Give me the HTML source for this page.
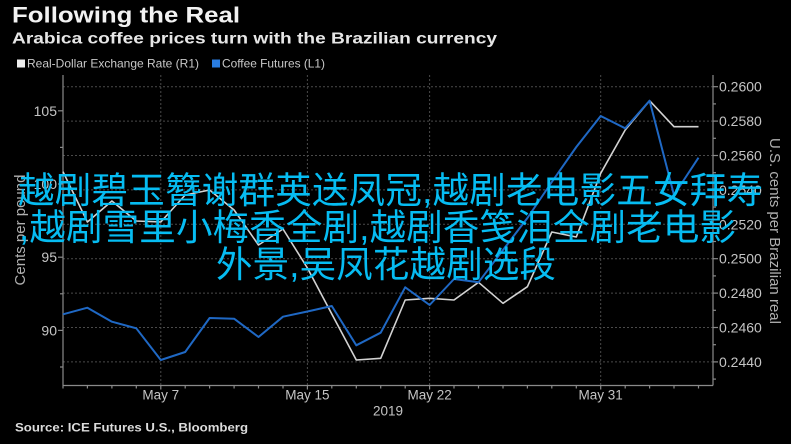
<!DOCTYPE html>
<html><head><meta charset="utf-8">
<style>
html,body{margin:0;padding:0;background:#000;}
svg{display:block;}
</style></head>
<body>
<svg width="791" height="444" viewBox="0 0 791 444" xmlns="http://www.w3.org/2000/svg" font-family="'Liberation Sans', 'Noto Sans CJK SC', sans-serif">
<rect width="791" height="444" fill="#000"/>
<!-- titles -->
<text x="12" y="22.5" font-size="22" font-weight="bold" fill="#f2f2f2" textLength="228" lengthAdjust="spacingAndGlyphs">Following the Real</text>
<text x="12" y="43.5" font-size="15.5" font-weight="bold" fill="#e6e6e6" textLength="485" lengthAdjust="spacingAndGlyphs">Arabica coffee prices turn with the Brazilian currency</text>
<!-- legend -->
<rect x="17" y="59.5" width="8" height="8" fill="#eeeeee"/>
<text x="27" y="67.5" font-size="12" fill="#c8c8c8" textLength="172" lengthAdjust="spacingAndGlyphs">Real-Dollar Exchange Rate (R1)</text>
<rect x="212" y="59.5" width="8" height="8" fill="#2a7de1"/>
<text x="222" y="67.5" font-size="12" fill="#c8c8c8" textLength="103" lengthAdjust="spacingAndGlyphs">Coffee Futures (L1)</text>

<!-- horizontal gridlines -->
<g stroke="#4a4a4a" stroke-width="1" stroke-dasharray="2,2">
<line x1="63" y1="86.7" x2="713" y2="86.7"/>
<line x1="63" y1="121.1" x2="713" y2="121.1"/>
<line x1="63" y1="155.5" x2="713" y2="155.5"/>
<line x1="63" y1="189.9" x2="713" y2="189.9"/>
<line x1="63" y1="224.3" x2="713" y2="224.3"/>
<line x1="63" y1="258.7" x2="713" y2="258.7"/>
<line x1="63" y1="293.1" x2="713" y2="293.1"/>
<line x1="63" y1="327.5" x2="713" y2="327.5"/>
<line x1="63" y1="361.9" x2="713" y2="361.9"/>
<!-- vertical -->
<line x1="160.8" y1="75" x2="160.8" y2="385"/>
<line x1="307.4" y1="75" x2="307.4" y2="385"/>
<line x1="429.6" y1="75" x2="429.6" y2="385"/>
<line x1="600.7" y1="75" x2="600.7" y2="385"/>
</g>

<!-- axes -->
<g stroke="#8a8a8a" stroke-width="1.2" fill="none">
<line x1="63" y1="75" x2="63" y2="385.5"/>
<line x1="713" y1="75" x2="713" y2="385.5"/>
<line x1="63" y1="385.5" x2="713" y2="385.5"/>
<!-- left ticks -->
<line x1="58" y1="110.8" x2="63" y2="110.8"/>
<line x1="58" y1="184" x2="63" y2="184"/>
<line x1="58" y1="257.2" x2="63" y2="257.2"/>
<line x1="58" y1="330.4" x2="63" y2="330.4"/>
<line x1="60" y1="147.4" x2="63" y2="147.4"/>
<line x1="60" y1="220.6" x2="63" y2="220.6"/>
<line x1="60" y1="293.8" x2="63" y2="293.8"/>
<line x1="60" y1="367" x2="63" y2="367"/>
<!-- right ticks -->
<line x1="713" y1="86.7" x2="718" y2="86.7"/>
<line x1="713" y1="121.1" x2="718" y2="121.1"/>
<line x1="713" y1="155.5" x2="718" y2="155.5"/>
<line x1="713" y1="189.9" x2="718" y2="189.9"/>
<line x1="713" y1="224.3" x2="718" y2="224.3"/>
<line x1="713" y1="258.7" x2="718" y2="258.7"/>
<line x1="713" y1="293.1" x2="718" y2="293.1"/>
<line x1="713" y1="327.5" x2="718" y2="327.5"/>
<line x1="713" y1="361.9" x2="718" y2="361.9"/>
<line x1="713" y1="103.9" x2="716" y2="103.9"/>
<line x1="713" y1="138.3" x2="716" y2="138.3"/>
<line x1="713" y1="172.7" x2="716" y2="172.7"/>
<line x1="713" y1="207.1" x2="716" y2="207.1"/>
<line x1="713" y1="241.5" x2="716" y2="241.5"/>
<line x1="713" y1="275.9" x2="716" y2="275.9"/>
<line x1="713" y1="310.3" x2="716" y2="310.3"/>
<line x1="713" y1="344.7" x2="716" y2="344.7"/>
<line x1="713" y1="379.1" x2="716" y2="379.1"/>
<!-- bottom ticks -->
<path d="M63 385.5v3 M87.4 385.5v3 M111.9 385.5v3 M136.3 385.5v3 M160.8 385.5v4 M185.2 385.5v3 M209.6 385.5v3 M234.1 385.5v3 M258.5 385.5v3 M283 385.5v3 M307.4 385.5v4 M331.8 385.5v3 M356.3 385.5v3 M380.7 385.5v3 M405.2 385.5v3 M429.6 385.5v4 M454 385.5v3 M478.5 385.5v3 M503 385.5v3 M527.4 385.5v3 M551.8 385.5v3 M576.3 385.5v3 M600.7 385.5v4 M625.2 385.5v3 M649.6 385.5v3 M674 385.5v3 M698.5 385.5v3"/>
</g>

<!-- tick labels -->
<g font-size="14" fill="#c4c4c4">
<text x="57" y="115.8" text-anchor="end">105</text>
<text x="57" y="189" text-anchor="end">100</text>
<text x="57" y="262.2" text-anchor="end">95</text>
<text x="57" y="335.4" text-anchor="end">90</text>
<text x="719" y="91.7">0.2600</text>
<text x="719" y="126.1">0.2580</text>
<text x="719" y="160.5">0.2560</text>
<text x="719" y="194.9">0.2540</text>
<text x="719" y="229.3">0.2520</text>
<text x="719" y="263.7">0.2500</text>
<text x="719" y="298.1">0.2480</text>
<text x="719" y="332.5">0.2460</text>
<text x="719" y="366.9">0.2440</text>
</g>
<g font-size="13.5" fill="#c4c4c4" text-anchor="middle">
<text x="160.8" y="399.5">May 7</text>
<text x="307.4" y="399.5">May 15</text>
<text x="429.6" y="399.5">May 22</text>
<text x="600.7" y="399.5">May 31</text>
<text x="388" y="415.5">2019</text>
</g>
<text transform="translate(25,230) rotate(-90)" font-size="15" fill="#b0b0b0" text-anchor="middle">Cents per pound</text>
<text transform="translate(770,231) rotate(90)" font-size="15" fill="#b0b0b0" text-anchor="middle">U.S. cents per Brazilian real</text>

<!-- series -->
<polyline fill="none" stroke="#d2d2d2" stroke-width="1.6" stroke-linejoin="round" points="63,171.7 87.4,222 111.9,201 136.3,221 160.8,222 185.2,195 209.6,190 234.1,210 258.5,245 283,229 307.4,268 331.8,314 356.3,360 380.7,358.3 405.2,300 429.6,298.3 454,300 478.5,282.3 503,303.3 527.4,286.7 551.8,232 576.3,237 600.7,173.3 625.2,130 649.6,100.7 674,126.7 698.5,126.7"/>
<polyline fill="none" stroke="#1f68c4" stroke-width="2" stroke-linejoin="round" points="63,314.3 87.4,307.7 111.9,321.7 136.3,328.3 160.8,360 185.2,352 209.6,318 234.1,318.7 258.5,337 283,316.7 307.4,311.5 331.8,306 356.3,345.3 380.7,332.7 405.2,287.3 429.6,305 454,279 478.5,282.3 503,250 527.4,218 551.8,182 576.3,147 600.7,116 625.2,128.3 649.6,100.7 674,195 698.5,157.7"/>

<!-- source -->
<text x="15" y="431.5" font-size="12" font-weight="bold" fill="#dcdcdc" textLength="233" lengthAdjust="spacingAndGlyphs">Source: ICE Futures U.S., Bloomberg</text>

<!-- overlay text -->
<g font-size="36.5" fill="#06bcf2" font-family="'Liberation Sans', 'Noto Sans CJK SC', sans-serif">
<text x="18" y="203" textLength="745" lengthAdjust="spacing">越剧碧玉簪谢群英送凤冠,越剧老电影五女拜寿</text>
<text x="19" y="240" textLength="717" lengthAdjust="spacing">,越剧雪里小梅香全剧,越剧香笺泪全剧老电影</text>
<text x="216" y="277" textLength="340" lengthAdjust="spacing">外景,吴凤花越剧选段</text>
</g>
</svg>
</body></html>
